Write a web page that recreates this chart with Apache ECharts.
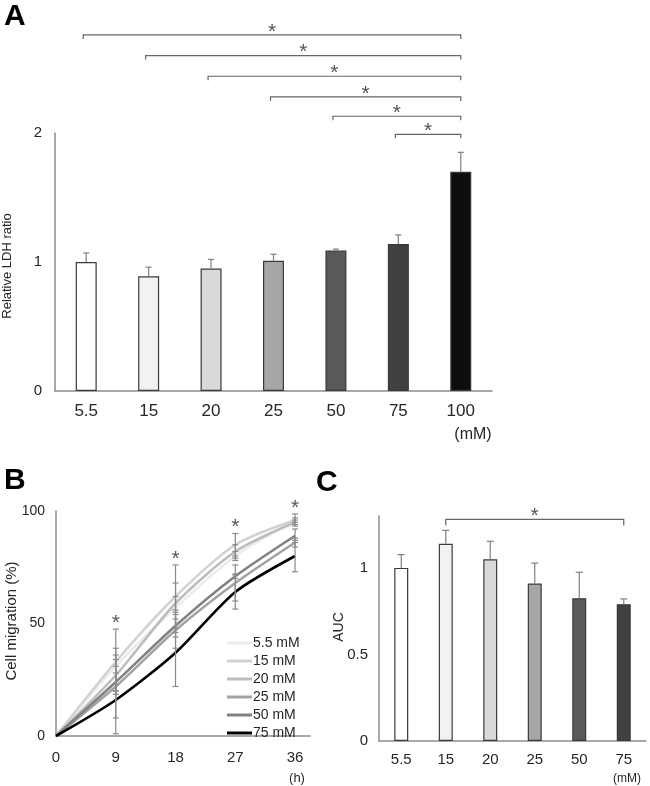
<!DOCTYPE html>
<html><head><meta charset="utf-8">
<script src="https://cdn.jsdelivr.net/npm/echarts@6/dist/echarts.min.js"></script>
<style>html,body{margin:0;padding:0;background:#fff}#c{width:650px;height:786px}</style>
</head><body><div id="c"></div>
<script>
// ---------- Panel A: Relative LDH ratio ----------
const ldhCats = ['5.5','15','20','25','50','75','100'];
const ldhMean = [1.00, 0.89, 0.95, 1.01, 1.09, 1.14, 1.70];
const ldhErr  = [0.07, 0.07, 0.07, 0.05, 0.01, 0.07, 0.15];
const ldhSigFrom  = [0, 1, 2, 3, 4, 5];      // each compared with '100'
const ldhSigTo    = 6;
const ldhSigLevel = [2.76, 2.60, 2.44, 2.28, 2.13, 1.99];
const ldhColors = ['#ffffff','#f2f2f2','#d9d9d9','#a6a6a6','#595959','#404040','#0d0d0d'];

// ---------- Panel B: Cell migration ----------
const migTimes = [0, 9, 18, 27, 36];
const migNames = ['5.5 mM','15 mM','20 mM','25 mM','50 mM','75 mM'];
const mig55 = [0, 31, 57, 80, 96];
const mig15 = [0, 33, 62, 85, 96];
const mig20 = [0, 27, 59, 82, 95];
const mig25 = [0, 22, 47, 68, 86];
const mig50 = [0, 24, 49, 71, 89];
const mig75 = [0, 16, 37, 64, 80];
const sd55 = [0, 8, 11, 2, 1];
const sd15 = [0, 14.5, 14, 5, 2.7];
const sd20 = [0, 7, 3, 3, 1];
const sd25 = [0, 14, 8, 8, 2];
const sd50 = [0, 4, 5, 1, 3];
const sd75 = [0, 15, 15, 7.6, 7];
const migStarTimes = [9, 18, 27, 36];
const migColors = ['#ececec','#d2d2d2','#bdbdbd','#a3a3a3','#828282','#000000'];

// ---------- Panel C: AUC ----------
const aucCats = ['5.5','15','20','25','50','75'];
const aucMean = [1.00, 1.14, 1.05, 0.91, 0.825, 0.79];
const aucErr  = [0.077, 0.077, 0.104, 0.118, 0.15, 0.031];
const aucSigFrom = 1, aucSigTo = 5, aucSigLevel = 1.28;
const aucColors = ['#ffffff','#f2f2f2','#d9d9d9','#a6a6a6','#595959','#404040'];

const FONT = 'Arial, "Liberation Sans", sans-serif';
const TXT = '#262626';
const AX = '#8c8c8c';

function errRender(capW, both, color){
  return function(params, api){
    const x = api.value(0), lo = api.value(1), hi = api.value(2);
    const p1 = api.coord([x, lo]), p2 = api.coord([x, hi]);
    const st = {stroke: color, lineWidth: 1.2};
    const ch = [
      {type:'line', shape:{x1:p1[0], y1:p1[1], x2:p2[0], y2:p2[1]}, style:st},
      {type:'line', shape:{x1:p2[0]-capW/2, y1:p2[1], x2:p2[0]+capW/2, y2:p2[1]}, style:st}
    ];
    if (both) ch.push({type:'line', shape:{x1:p1[0]-capW/2, y1:p1[1], x2:p1[0]+capW/2, y2:p1[1]}, style:st});
    return {type:'group', children: ch};
  };
}
function bracketRender(tick, fs, leftShift){
  return function(params, api){
    const y = api.value(2);
    const a = api.coord([api.value(0), y]), b = api.coord([api.value(1), y]);
    const ax = a[0] - leftShift;
    const st = {stroke:'#666', lineWidth:1.2};
    return {type:'group', children:[
      {type:'polyline', shape:{points:[[ax, a[1]+tick],[ax, a[1]],[b[0], b[1]],[b[0], b[1]+tick]]}, style:{...st, fill:null}},
      {type:'text', style:{text:'*', x:(ax+b[0])/2, y:a[1]-3, align:'center', verticalAlign:'middle', fontSize:fs, fontFamily:FONT, fill:'#555'}}
    ]};
  };
}
function starRender(fs){
  return function(params, api){
    const p = api.coord([api.value(0), api.value(1)]);
    return {type:'text', style:{text:'*', x:p[0], y:p[1]-6, align:'center', verticalAlign:'middle', fontSize:fs, fontFamily:FONT, fill:'#555'}};
  };
}

const migMeans = [mig55, mig15, mig20, mig25, mig50, mig75];
const migSds = [sd55, sd15, sd20, sd25, sd50, sd75];

const migErrData = [];
migMeans.forEach((m, s) => {
  migTimes.forEach((t, j) => { if (t > 0) migErrData.push([t, m[j] - migSds[s][j], m[j] + migSds[s][j]]); });
});
const migStarData = migStarTimes.map(t => {
  const j = migTimes.indexOf(t);
  let top = -Infinity;
  migMeans.forEach((m, s) => { top = Math.max(top, m[j] + migSds[s][j]); });
  return [t, top];
});

const axisLineStyle = {lineStyle:{color:AX, width:1.5}};

const option = {
  animation: false,
  backgroundColor: '#fff',
  textStyle: {fontFamily: FONT},
  grid: [
    {left:55, top:133, width:437, height:258},
    {left:56, top:511, width:254, height:225},
    {left:379, top:516, width:267, height:225}
  ],
  xAxis: [
    {gridIndex:0, type:'category', data:ldhCats, axisLine:axisLineStyle, axisTick:{show:false},
     axisLabel:{color:TXT, fontSize:17, margin:12, fontFamily:FONT}},
    {gridIndex:1, type:'value', min:0, max:38.25, interval:9, axisLine:{show:true, ...axisLineStyle}, axisTick:{show:false},
     splitLine:{show:false}, axisLabel:{color:TXT, fontSize:15, margin:14, showMaxLabel:false, fontFamily:FONT}},
    {gridIndex:2, type:'category', data:aucCats, axisLine:axisLineStyle, axisTick:{show:false},
     axisLabel:{color:TXT, fontSize:15, margin:11, fontFamily:FONT}}
  ],
  yAxis: [
    {gridIndex:0, type:'value', min:0, max:2, interval:1, axisLine:{show:true, ...axisLineStyle}, axisTick:{show:false},
     splitLine:{show:false}, axisLabel:{color:TXT, fontSize:15, margin:13, fontFamily:FONT}},
    {gridIndex:1, type:'value', min:0, max:100, interval:50, axisLine:{show:true, ...axisLineStyle}, axisTick:{show:false},
     splitLine:{show:false}, axisLabel:{color:TXT, fontSize:14, margin:11, fontFamily:FONT}},
    {gridIndex:2, type:'value', min:0, max:1.3, interval:0.5, axisLine:{show:true, ...axisLineStyle}, axisTick:{show:false},
     splitLine:{show:false}, axisLabel:{color:TXT, fontSize:15, margin:11, showMaxLabel:false, fontFamily:FONT}}
  ],
  legend: {
    data: migNames, orient:'vertical', left:222, top:631, itemGap:4,
    icon:'rect', itemWidth:25, itemHeight:3,
    textStyle:{color:TXT, fontSize:14, fontFamily:FONT, padding:[0,0,0,-4]},
    selectedMode:false
  },
  series: [
    {type:'bar', xAxisIndex:0, yAxisIndex:0, barWidth:21,
     data: ldhMean.map((v,i) => ({value:v, itemStyle:{color:ldhColors[i], borderColor:'#3a3a3a', borderWidth:1.2}}))},
    {type:'custom', xAxisIndex:0, yAxisIndex:0, renderItem: errRender(6, false, '#7f7f7f'),
     data: ldhMean.map((v,i) => [i, v, v + ldhErr[i]]), z:3},
    {type:'custom', xAxisIndex:0, yAxisIndex:0, clip:false, renderItem: bracketRender(4, 21, 3),
     data: ldhSigFrom.map((f,k) => [f, ldhSigTo, ldhSigLevel[k]]), z:3},

    ...migNames.map((n, s) => ({
      name:n, type:'line', xAxisIndex:1, yAxisIndex:1, showSymbol:false, symbol:'none', smooth:0.25,
      itemStyle:{color:migColors[s]}, lineStyle:{color:migColors[s], width:2.6},
      data: migTimes.map((t,j) => [t, migMeans[s][j]]), z: 2 + s*0.01
    })),
    {type:'custom', xAxisIndex:1, yAxisIndex:1, renderItem: errRender(6, true, '#8a8a8a'), data: migErrData, z:4},
    {type:'custom', xAxisIndex:1, yAxisIndex:1, clip:false, renderItem: starRender(21), data: migStarData, z:4},

    {type:'bar', xAxisIndex:2, yAxisIndex:2, barWidth:14,
     data: aucMean.map((v,i) => ({value:v, itemStyle:{color:aucColors[i], borderColor:'#3a3a3a', borderWidth:1.2}}))},
    {type:'custom', xAxisIndex:2, yAxisIndex:2, renderItem: errRender(7, false, '#7f7f7f'),
     data: aucMean.map((v,i) => [i, v, v + aucErr[i]]), z:3},
    {type:'custom', xAxisIndex:2, yAxisIndex:2, clip:false, renderItem: bracketRender(6, 20, 0),
     data: [[aucSigFrom, aucSigTo, aucSigLevel]], z:3}
  ],
  graphic: [
    {type:'text', left:4, top:2, style:{text:'A', fontSize:30, fontWeight:'bold', fontFamily:FONT, fill:'#000'}},
    {type:'text', left:4, top:466, style:{text:'B', fontSize:30, fontWeight:'bold', fontFamily:FONT, fill:'#000'}},
    {type:'text', left:316, top:468, style:{text:'C', fontSize:30, fontWeight:'bold', fontFamily:FONT, fill:'#000'}},
    {type:'text', x:7, y:266, rotation:Math.PI/2, style:{text:'Relative LDH ratio', fontSize:13, fontFamily:FONT, fill:TXT, align:'center', verticalAlign:'middle'}},
    {type:'text', x:12, y:621, rotation:Math.PI/2, style:{text:'Cell migration (%)', fontSize:15, fontFamily:FONT, fill:TXT, align:'center', verticalAlign:'middle'}},
    {type:'text', x:339, y:627, rotation:Math.PI/2, style:{text:'AUC', fontSize:14, fontFamily:FONT, fill:TXT, align:'center', verticalAlign:'middle'}},
    {type:'text', x:473, y:435, style:{text:'(mM)', fontSize:16, fontFamily:FONT, fill:TXT, align:'center', verticalAlign:'middle'}},
    {type:'text', x:297, y:778, style:{text:'(h)', fontSize:13, fontFamily:FONT, fill:TXT, align:'center', verticalAlign:'middle'}},
    {type:'text', x:627, y:779, style:{text:'(mM)', fontSize:12, fontFamily:FONT, fill:TXT, align:'center', verticalAlign:'middle'}}
  ]
};
const chart = echarts.init(document.getElementById('c'), null, {renderer:'canvas'});
chart.setOption(option);
</script>
</body></html>
